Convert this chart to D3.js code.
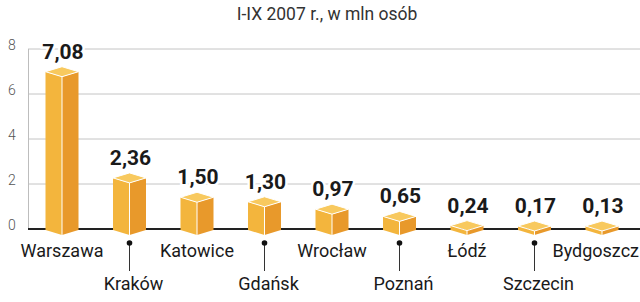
<!DOCTYPE html>
<html>
<head>
<meta charset="utf-8">
<script src="https://cdn.jsdelivr.net/npm/d3@7"></script>
<style>
  html, body { margin: 0; padding: 0; background: #fff; }
  svg { display: block; font-family: Roboto, "Noto Sans", sans-serif; }
</style>
</head>
<body>
<svg id="chart" width="640" height="302"></svg>
<script>
// data
var cities = ["Warszawa", "Kraków", "Katowice", "Gdańsk", "Wrocław", "Poznań", "Łódź", "Szczecin", "Bydgoszcz"];
var passengers = [7.08, 2.36, 1.50, 1.30, 0.97, 0.65, 0.24, 0.17, 0.13];
var yTicks = [0, 2, 4, 6, 8];
var title = "I-IX 2007 r., w mln osób";

var svg = d3.select("#chart");
var W = 640;

var x = d3.scalePoint().domain(cities).range([62, 602]);
var y = d3.scaleLinear().domain([0, 8]).range([229, 49]);

var fmt = function (v) { return v.toFixed(2).replace(".", ","); };

// title
svg.append("text")
  .attr("x", 327).attr("y", 20)
  .attr("text-anchor", "middle")
  .attr("font-size", 17.5)
  .attr("fill", "#333")
  .text(title);

// grid
var grid = svg.append("g");
grid.selectAll("line")
  .data(yTicks.filter(function (d) { return d > 0; }))
  .enter().append("line")
  .attr("x1", 28).attr("x2", W)
  .attr("y1", function (d) { return y(d); })
  .attr("y2", function (d) { return y(d); })
  .attr("stroke", "#c4c4c4").attr("stroke-width", 1);

svg.append("line")
  .attr("x1", 28.5).attr("x2", 28.5)
  .attr("y1", y(8)).attr("y2", y(0))
  .attr("stroke", "#bdbdbd").attr("stroke-width", 1);

svg.selectAll(".ytick")
  .data(yTicks)
  .enter().append("text")
  .attr("class", "ytick")
  .attr("x", 12).attr("y", function (d) { return y(d) + 1; })
  .attr("text-anchor", "middle")
  .attr("font-size", 14).attr("font-weight", 300)
  .attr("fill", "#555")
  .text(function (d) { return d; });

// baseline
svg.append("line")
  .attr("x1", 28).attr("x2", W)
  .attr("y1", y(0)).attr("y2", y(0))
  .attr("stroke", "#222").attr("stroke-width", 2);

// 3d boxes
var hw = 16.5, dep = 5;
var bars = svg.selectAll(".bar")
  .data(cities)
  .enter().append("g")
  .attr("class", "bar");

function pts(a) { return a.map(function (p) { return p.join(","); }).join(" "); }

bars.each(function (c, i) {
  var g = d3.select(this);
  var cx = x(c);
  var y0 = y(0);
  var side = Math.min(y(passengers[i]) + 2, y0 - 3);
  var back = side - dep, front = side + dep;
  var bSide = y0 + 1, bFront = bSide + dep;
  // left face
  g.append("polygon")
    .attr("points", pts([[cx - hw, side], [cx, front], [cx, bFront], [cx - hw, bSide]]))
    .attr("fill", "#f3b53d");
  // right face
  g.append("polygon")
    .attr("points", pts([[cx, front], [cx + hw, side], [cx + hw, bSide], [cx, bFront]]))
    .attr("fill", "#e8992b");
  // top
  g.append("polygon")
    .attr("points", pts([[cx - hw, side], [cx, back], [cx + hw, side], [cx, front]]))
    .attr("fill", "#f8c95e")
    .attr("stroke", "#fff").attr("stroke-width", 1).attr("stroke-linejoin", "round");
  g.append("line")
    .attr("x1", cx).attr("x2", cx)
    .attr("y1", front).attr("y2", bFront)
    .attr("stroke", "#fff").attr("stroke-width", 1);
});

// value labels
svg.selectAll(".val")
  .data(cities)
  .enter().append("text")
  .attr("class", "val")
  .attr("x", function (c) { return x(c) + 1; })
  .attr("y", function (c, i) { return Math.min(y(passengers[i]) + 2, y(0) - 3) - dep - 8; })
  .attr("text-anchor", "middle")
  .attr("font-size", 21).attr("font-weight", 700)
  .attr("fill", "#1a1a1a")
  .attr("stroke", "#fff").attr("stroke-width", 5)
  .attr("paint-order", "stroke")
  .text(function (c, i) { return fmt(passengers[i]); });

// category labels, alternating rows
var labs = svg.selectAll(".cat")
  .data(cities)
  .enter().append("g")
  .attr("class", "cat");

labs.each(function (c, i) {
  var g = d3.select(this);
  var cx = x(c);
  var low = i % 2 === 1;
  if (low) {
    g.append("line")
      .attr("x1", cx).attr("x2", cx)
      .attr("y1", 243).attr("y2", 271)
      .attr("stroke", "#333").attr("stroke-width", 1);
    g.append("circle")
      .attr("cx", cx).attr("cy", 243).attr("r", 2.8)
      .attr("fill", "#111");
  }
  var t = g.append("text")
    .attr("x", low ? cx + 4 : cx)
    .attr("y", low ? 290 : 257)
    .attr("text-anchor", "middle")
    .attr("font-size", 18)
    .attr("fill", "#1a1a1a")
    .text(c);
  var bb = t.node().getBBox();
  if (bb.x + bb.width > W - 1) {
    t.attr("text-anchor", "end").attr("x", W - 1);
  }
});
</script>
</body>
</html>
